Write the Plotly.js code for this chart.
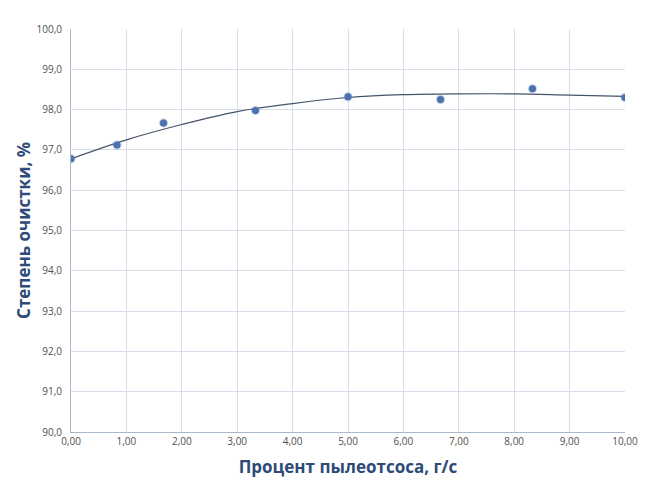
<!DOCTYPE html>
<html>
<head>
<meta charset="utf-8">
<script src="https://cdn.plot.ly/plotly-3.0.1.min.js"></script>
<style>html,body{margin:0;padding:0;background:#fff;}#chart{width:647px;height:486px;}</style>
</head>
<body>
<div id="chart"></div>
<script>
// Measured data points
var xValues = [0, 0.83, 1.67, 3.33, 5.0, 6.67, 8.33, 10.0];
var yValues = [96.78, 97.12, 97.67, 97.98, 98.32, 98.25, 98.52, 98.30];
// Trend line
var trendX = [0, 1, 2, 3, 4, 5, 6, 7, 8, 9, 10];
var trendY = [96.78, 97.25, 97.63, 97.95, 98.15, 98.30, 98.37, 98.39, 98.39, 98.36, 98.33];
var xTitle = "Процент пылеотсоса, г/с";
var yTitle = "Степень очистки, %";

var traces = [
  {x: trendX, y: trendY, type: "scatter", mode: "lines",
   line: {color: "#44546a", width: 1.2, shape: "spline"}, hoverinfo: "skip"},
  {x: xValues, y: yValues, type: "scatter", mode: "markers",
   marker: {color: "#4a72b0", size: 7, line: {color: "rgba(74,114,176,0.35)", width: 2}}}
];

var tickFont = {family: "Open Sans, Liberation Sans, sans-serif", size: 10, color: "#505050"};
var titleFont = {family: "Open Sans, Liberation Sans, sans-serif", size: 17, color: "#2e4a78", weight: "bold"};

var layout = {
  width: 647, height: 486,
  margin: {l: 71, r: 22, t: 29, b: 54},
  paper_bgcolor: "#ffffff", plot_bgcolor: "#ffffff",
  separators: ", ",
  showlegend: false,
  xaxis: {
    range: [0, 10], dtick: 1, tick0: 0, tickformat: ".2f",
    showgrid: true, gridcolor: "#d6dfe9", gridwidth: 1,
    showline: true, linecolor: "#a9b9cb", linewidth: 1,
    zeroline: false, ticks: "", tickfont: tickFont,
    title: {text: xTitle, font: titleFont, standoff: 14}
  },
  yaxis: {
    range: [90, 100], dtick: 1, tick0: 90, tickformat: ".1f",
    showgrid: true, gridcolor: "#d6dfe9", gridwidth: 1,
    showline: true, linecolor: "#a9b9cb", linewidth: 1,
    zeroline: false, ticks: "", tickfont: tickFont, ticklabelstandoff: 6,
    title: {text: yTitle, font: titleFont, standoff: 1}
  }
};

Plotly.newPlot("chart", traces, layout, {displayModeBar: false, staticPlot: true});
</script>
</body>
</html>
